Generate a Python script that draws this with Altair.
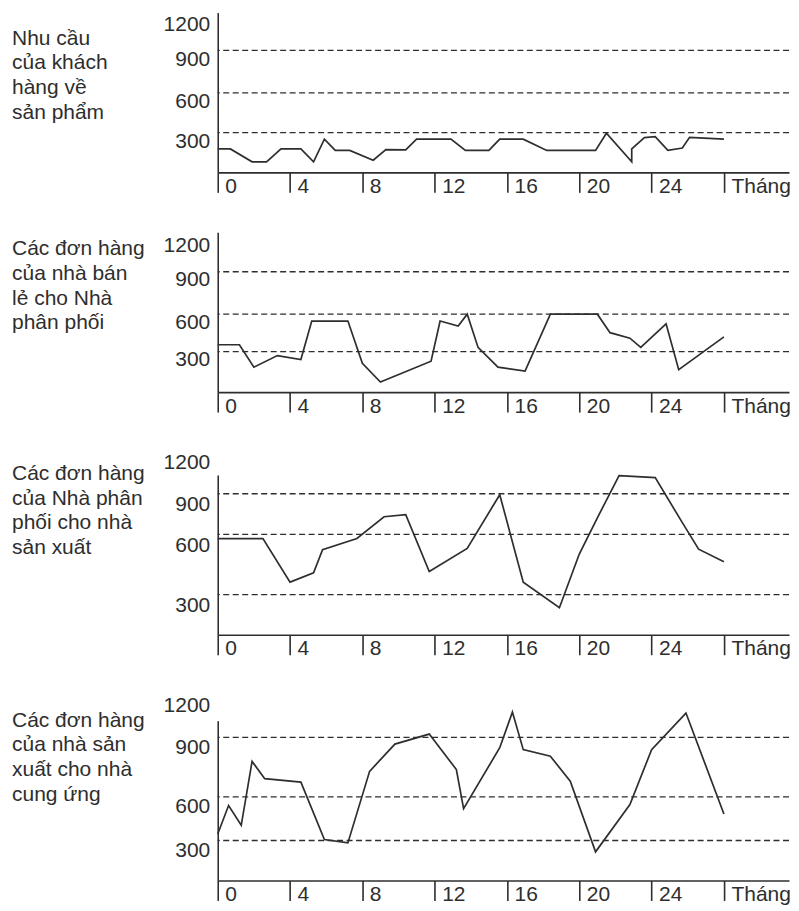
import altair as alt
import pandas as pd

# ---------------- data ----------------
TICK_MONTHS = [0, 4, 8, 12, 16, 20, 24, 28]
Y_LABELS = [300, 600, 900, 1200]
LEVELS = [300, 600, 900]

p1_month = [0, 0.7, 1.9, 2.7, 3.5, 4.6, 5.3, 5.9, 6.5, 7.3, 8.6, 9.3, 10.4, 11.0,
            12.9, 13.7, 15.0, 15.6, 16.9, 18.2, 20.9, 21.5, 22.9, 22.9, 23.6, 24.2,
            24.9, 25.7, 26.1, 28.0]
p1_value = [177, 177, 80, 80, 177, 177, 80, 251, 166, 166, 92, 172, 170, 251,
            251, 166, 166, 251, 251, 166, 166, 296, 80, 177, 263, 270,
            166, 184, 265, 251]

p2_month = [0, 1.2, 2.0, 3.3, 4.6, 5.2, 7.2, 8.0, 9.0, 11.8, 12.3, 13.3, 13.8, 14.4,
            15.5, 17.0, 18.4, 21.0, 21.7, 22.8, 23.4, 24.8, 25.5, 28.0]
p2_value = [355, 355, 185, 271, 241, 545, 545, 214, 75, 229, 545, 505, 600, 334,
            185, 156, 600, 600, 452, 408, 334, 523, 166, 418]

p3_month = [0, 2.5, 4.0, 5.3, 5.8, 7.7, 9.2, 10.4, 11.7, 13.8, 15.6, 16.9, 18.9,
            20.0, 21.0, 22.2, 24.2, 25.7, 26.6, 28.0]
p3_value = [579, 579, 362, 408, 523, 579, 730, 746, 415, 530, 893, 362, 202,
            502, 722, 1190, 1159, 686, 526, 464]

p4_month = [0, 0.6, 1.3, 1.9, 2.6, 4.6, 5.9, 7.2, 8.4, 9.8, 11.7, 13.2, 13.6, 15.6,
            16.3, 16.9, 18.4, 19.5, 20.9, 22.8, 24.0, 25.9, 28.0]
p4_value = [345, 541, 405, 779, 692, 675, 307, 282, 729, 866, 959, 738, 520, 848,
            1354, 838, 805, 679, 215, 548, 838, 1337, 483]

titles = [
    ["Nhu cầu", "của khách", "hàng về", "sản phẩm"],
    ["Các đơn hàng", "của nhà bán", "lẻ cho Nhà", "phân phối"],
    ["Các đơn hàng", "của Nhà phân", "phối cho nhà", "sản xuất"],
    ["Các đơn hàng", "của nhà sản", "xuất cho nhà", "cung ứng"],
]

# ---------------- layout / style ----------------
W = 572
H = 160
XMAX = 31.6
INK = "#2e2e2e"
FONT = "Liberation Sans"
FS = 21

# heights (reference px above baseline) of 300/600/900/1200 in each panel
stops = [
    [40, 80, 123, 161],
    [41, 79, 122, 162],
    [40.6, 101.6, 142.6, 161.6],
    [40, 83.6, 143.3, 160],
]
label_offsets = [(9, 12), (8, 13), (11, -12), (10, -15)]
title_y = [32, 23, 5, 6]


def panel(months, values, lines, stop, offs, ty):
    df = pd.DataFrame({"month": months, "value": values, "i": list(range(len(months)))})
    top = stop[-1]
    rng = [H] + [H * (1 - s / top) for s in stop]
    yscale = alt.Scale(domain=[0] + Y_LABELS, range=rng, nice=False, zero=False)
    xscale = alt.Scale(domain=[0, XMAX], nice=False, zero=False)

    xaxis = alt.Axis(
        values=TICK_MONTHS,
        labelExpr="datum.value == 28 ? 'Tháng' : datum.label",
        title=None, grid=False,
        tickSize=20, tickColor=INK, tickWidth=1.6,
        domainColor=INK, domainWidth=1.6,
        labelAlign="left", labelBaseline="middle",
        labelPadding=-6, labelOffset=7,
        labelFlush=False, labelOverlap=False,
        labelFont=FONT, labelFontSize=FS, labelColor=INK,
    )
    yaxis = alt.Axis(
        values=Y_LABELS, format="d", title=None, grid=False, ticks=False,
        domainColor=INK, domainWidth=1.6,
        labelPadding=8, labelFlush=False, labelOverlap=False,
        labelFont=FONT, labelFontSize=FS, labelColor=INK,
        labelOffset={"condition": {"test": "datum.value == 1200", "value": offs[1]},
                     "value": offs[0]},
    )

    rules = alt.Chart(pd.DataFrame({"value": LEVELS})).mark_rule(
        color=INK, strokeWidth=1.3, strokeDash=[6, 3.5]
    ).encode(y=alt.Y("value:Q", scale=yscale, axis=yaxis))

    line = alt.Chart(df).mark_line(color=INK, strokeWidth=1.7).encode(
        x=alt.X("month:Q", scale=xscale, axis=xaxis),
        y=alt.Y("value:Q", scale=yscale, axis=yaxis),
        order="i:Q",
    )

    title = alt.Chart(pd.DataFrame({"t": ["\n".join(lines)]})).mark_text(
        align="left", baseline="alphabetic", lineBreak="\n",
        font=FONT, fontSize=FS, color=INK, lineHeight=24.7,
    ).encode(text="t:N", x=alt.value(-206), y=alt.value(ty))

    return alt.layer(rules, line, title).properties(width=W, height=H)


panels = [
    panel(p1_month, p1_value, titles[0], stops[0], label_offsets[0], title_y[0]),
    panel(p2_month, p2_value, titles[1], stops[1], label_offsets[1], title_y[1]),
    panel(p3_month, p3_value, titles[2], stops[2], label_offsets[2], title_y[2]),
    panel(p4_month, p4_value, titles[3], stops[3], label_offsets[3], title_y[3]),
]

chart = alt.vconcat(*panels, spacing=36).properties(
    padding={"left": 4, "top": 4, "right": 0, "bottom": 0}
).configure_view(stroke=None)

chart.save("out.html", embed_options={"renderer": "svg", "actions": False})
